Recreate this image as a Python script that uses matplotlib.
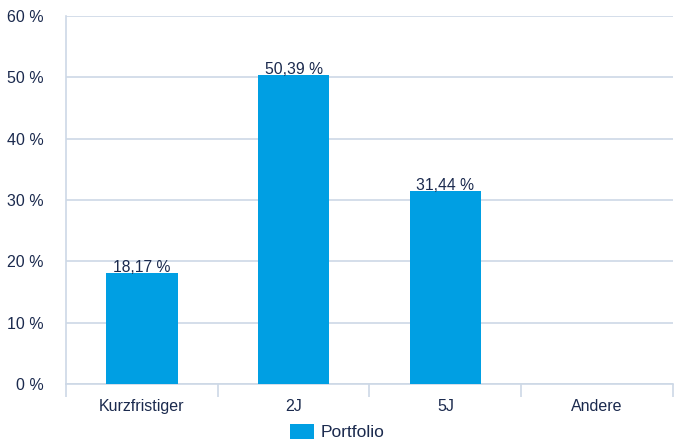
import numpy as np
import matplotlib
matplotlib.use('Agg')
import matplotlib.pyplot as plt

# data
categories = ['Kurzfristiger', '2J', '5J', 'Andere']
values = [18.17, 50.39, 31.44, None]
labels = ['18,17 %', '50,39 %', '31,44 %', '']
yticks = [0, 10, 20, 30, 40, 50, 60]

bar_color = '#009fe3'
grid_color = '#cdd8e6'
text_color = '#1b2a4e'

plt.rcParams['font.family'] = ['Liberation Sans', 'DejaVu Sans']

fig = plt.figure(figsize=(6.74, 4.41), dpi=100)
ax = fig.add_axes([66/674, 57/441, 607/674, 368/441])

x = np.arange(len(categories))
vals = [v if v is not None else 0 for v in values]
bars = ax.bar(x, vals, width=0.47, color=bar_color, zorder=3, label='Portfolio')
for xi, v, lab in zip(x, vals, labels):
    if lab:
        ax.text(xi, v - 0.35, lab, ha='center', va='bottom', fontsize=11.3, color=text_color, zorder=4)

ax.set_ylim(0, 60)
ax.set_xlim(-0.5, len(categories) - 0.5)
ax.set_yticks(yticks)
ax.set_yticklabels(['%d %%' % t for t in yticks])
ax.yaxis.grid(True, color=grid_color, linewidth=1.2, zorder=0)
ax.tick_params(axis='y', length=0, pad=16, labelsize=11.5, labelcolor=text_color)

# category boundaries as ticks, labels as minor ticks
ax.set_xticks(np.arange(-0.5, len(categories), 1.0))
ax.set_xticklabels([])
ax.tick_params(axis='x', which='major', length=9, width=1.2, color=grid_color, direction='out')
ax.set_xticks(x, minor=True)
ax.set_xticklabels(categories, minor=True)
ax.tick_params(axis='x', which='minor', length=0, pad=11, labelsize=11.5, labelcolor=text_color)

for s in ['top', 'right']:
    ax.spines[s].set_visible(False)
for s in ['left', 'bottom']:
    ax.spines[s].set_color(grid_color)
    ax.spines[s].set_linewidth(1.2)

leg = fig.legend(handles=[bars], labels=['Portfolio'], loc='center', bbox_to_anchor=(0.5, 9/441),
                 frameon=False, fontsize=12.5, handlelength=1.4, handleheight=1.0, handletextpad=0.35)
for t in leg.get_texts():
    t.set_color(text_color)

plt.savefig('out.png', dpi=100)
